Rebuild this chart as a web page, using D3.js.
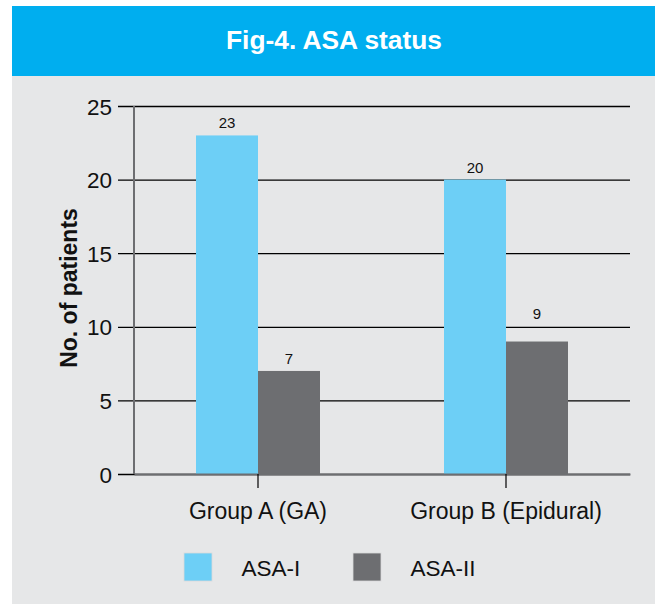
<!DOCTYPE html>
<html>
<head>
<meta charset="utf-8">
<script src="https://cdn.jsdelivr.net/npm/d3@7"></script>
<style>
  html, body { margin: 0; padding: 0; background: #ffffff; }
  svg { display: block; font-family: Arial, "Liberation Sans", Helvetica, sans-serif; }
</style>
</head>
<body>
<svg id="chart" width="655" height="605"></svg>
<script>
const title = "Fig-4. ASA status";
const categories = ["Group A (GA)", "Group B (Epidural)"];
const seriesNames = ["ASA-I", "ASA-II"];
const asa1 = [23, 20];
const asa2 = [7, 9];
const yTicks = [0, 5, 10, 15, 20, 25];
const yLabel = "No. of patients";
const colors = ["#6dcff6", "#6d6e71"];

const svg = d3.select("#chart");
const W = 655, H = 605;

// panel and header
svg.append("rect").attr("x", 12).attr("y", 6).attr("width", W - 12).attr("height", H - 7).attr("fill", "#e6e7e8");
svg.append("rect").attr("x", 12).attr("y", 6).attr("width", W - 12).attr("height", 70).attr("fill", "#00aeef");
svg.append("text").attr("x", 334).attr("y", 48.5).attr("text-anchor", "middle")
  .attr("fill", "#ffffff").attr("font-weight", "bold").attr("font-size", 26)
  .attr("textLength", 216).attr("lengthAdjust", "spacingAndGlyphs")
  .text(title);

const mLeft = 134, mRight = 630, mTop = 106, mBottom = 474;
const x0 = d3.scaleBand().domain(categories).range([mLeft, mRight]).paddingInner(0).paddingOuter(0);
const x1 = d3.scaleBand().domain(seriesNames).range([0, x0.bandwidth()]).paddingOuter(1).paddingInner(0);
const y = d3.scaleLinear().domain([0, 25]).range([mBottom, mTop]);

// gridlines + y axis
const yAxis = d3.axisLeft(y).tickValues(yTicks).tickSize(-(mRight - mLeft)).tickSizeOuter(0).tickPadding(0);
const gy = svg.append("g").attr("transform", `translate(${mLeft},0)`).call(yAxis);
gy.select(".domain").remove();
gy.selectAll(".tick line").attr("x1", -16).attr("stroke", "#000").attr("stroke-width", 1.3);
gy.selectAll(".tick text").attr("x", -22).attr("dy", "0.36em")
  .attr("font-size", 22.5).attr("fill", "#111").attr("font-family", "Arial, 'Liberation Sans', sans-serif");

// value-label placement: above the bar, lifted above a gridline if it would cross one
function labelY(v) {
  let base = y(v) - 7;
  const topEdge = base - 12;
  const hit = yTicks.map(t => y(t)).find(gy0 => gy0 > topEdge && gy0 < base + 2);
  if (hit !== undefined) base = hit - 8;
  return base;
}

// bars
const data = categories.map((c, i) => ({ cat: c, vals: [asa1[i], asa2[i]] }));
const groups = svg.append("g").selectAll("g").data(data).join("g")
  .attr("transform", d => `translate(${x0(d.cat)},0)`);
groups.selectAll("rect").data(d => d.vals.map((v, j) => ({ s: seriesNames[j], v, j })))
  .join("rect")
  .attr("x", d => x1(d.s)).attr("y", d => y(d.v))
  .attr("width", x1.bandwidth()).attr("height", d => y(0) - y(d.v))
  .attr("fill", d => colors[d.j]);
groups.selectAll("text").data(d => d.vals.map((v, j) => ({ s: seriesNames[j], v, j })))
  .join("text")
  .attr("x", d => x1(d.s) + x1.bandwidth() / 2).attr("y", d => labelY(d.v))
  .attr("text-anchor", "middle").attr("font-size", 15).attr("fill", "#111")
  .text(d => d.v);

// left axis line
svg.append("line").attr("x1", mLeft).attr("x2", mLeft).attr("y1", mTop).attr("y2", mBottom)
  .attr("stroke", "#6d6e71").attr("stroke-width", 2);

// x axis
const xAxis = d3.axisBottom(x0).tickSize(14).tickSizeOuter(0).tickPadding(0);
const gx = svg.append("g").attr("transform", `translate(0,${mBottom})`).call(xAxis);
gx.select(".domain").attr("stroke", "#6d6e71").attr("stroke-width", 2);
gx.selectAll(".tick line").attr("stroke", "#000").attr("stroke-width", 1.2);
gx.selectAll(".tick text").attr("y", 45).attr("dy", 0)
  .attr("font-size", 23).attr("fill", "#111").attr("font-family", "Arial, 'Liberation Sans', sans-serif");

// y label
svg.append("text").attr("transform", "translate(77,288) rotate(-90)")
  .attr("text-anchor", "middle").attr("font-weight", "bold").attr("font-size", 23).attr("fill", "#111")
  .text(yLabel);

// legend
const legX = [184, 353];
const leg = svg.append("g").selectAll("g").data(seriesNames).join("g")
  .attr("transform", (d, i) => `translate(${legX[i]},553)`);
leg.append("rect").attr("width", 28).attr("height", 28).attr("fill", (d, i) => colors[i])
  .attr("stroke", "#d9dadb").attr("stroke-width", 0.8);
leg.append("text").attr("x", 57.5).attr("y", 23).attr("font-size", 22.5).attr("fill", "#111").text(d => d);
</script>
</body>
</html>
